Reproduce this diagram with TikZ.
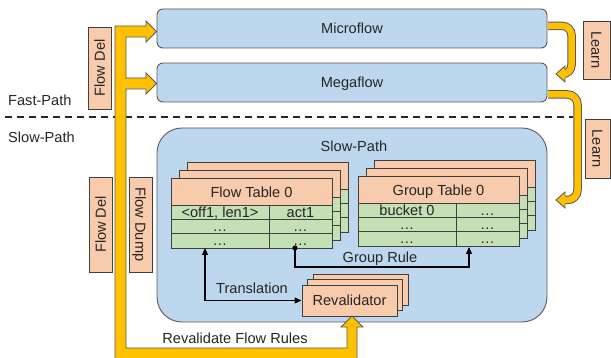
\documentclass[tikz,border=0pt]{standalone}
\usepackage{fontspec}
\setmainfont{Liberation Sans}
\usetikzlibrary{arrows.meta}
\definecolor{bluef}{HTML}{BDD7EE}
\definecolor{peachf}{HTML}{F8CBAD}
\definecolor{greenf}{HTML}{C5E0B4}
\definecolor{goldf}{HTML}{FFC000}
\definecolor{edgec}{HTML}{404040}
\definecolor{txtc}{HTML}{262626}
\definecolor{grayedge}{HTML}{5A5A5A}
\tikzset{
 lbl/.style={font=\fontsize{14.6}{17}\selectfont, text=txtc, inner sep=0pt, text height=10.5pt, text depth=0pt},
 rbox/.style={lbl, draw=grayedge, line width=0.9pt, fill=bluef, rounded corners=6pt},
 tagbox/.style={lbl, draw=edgec, line width=0.9pt, fill=peachf},
 layer/.style={draw=edgec, line width=0.9pt},
 conn/.style={draw=black, line width=1.2pt},
 tipend/.style={-{Triangle[length=7pt,width=6pt]}},
 tipboth/.style={{Triangle[length=7pt,width=6pt]}-{Triangle[length=7pt,width=6pt]}},
 goldline/.style={line width=6.5pt, goldf},
 goldedge/.style={line width=8.5pt, grayedge},
 headedge/.style={grayedge, line width=0.8pt},
}
\newcommand\tblstack[7]{%
  \foreach \k in {2,1,0} {
    \begin{scope}[shift={({#1+8*\k},{#2-8*\k})}]
      \fill[peachf] (0,0) rectangle (161,27);
      \fill[greenf] (0,27) rectangle (161,70);
      \draw[layer] (0,0) rectangle (161,70) (0,27) -- (161,27) (0,41.3) -- (161,41.3) (0,55.6) -- (161,55.6) (98,27) -- (98,70);
    \end{scope}
  }
  \node[lbl] (#3h) at (#1+80.5,#2+14.5) {#4};
  \node[lbl] (#3a) at (#1+49,#2+34.5) {#5};
  \node[lbl] (#3b) at (#1+129.5,#2+34.5) {#6};
  \node[lbl] (#3c) at (#1+49,#2+48.5) {\ldots};
  \node[lbl] (#3d) at (#1+129.5,#2+48.5) {\ldots};
  \node[lbl] (#3e) at (#1+49,#2+62.5) {\ldots};
  \node[lbl] (#3f) at (#1+129.5,#2+62.5) {\ldots};
  #7
}
\begin{document}
\begin{tikzpicture}[x=1pt,y=-1pt]
\useasboundingbox[fill=white] (0,0) rectangle (611,358);
% dashed separator
\coordinate (dl) at (5,117);
\coordinate (dr) at (573,117);
\draw[txtc, line width=1.8pt, dash pattern=on 7pt off 5pt] (dl) -- (dr);
\node[lbl, anchor=west] (fastlbl) at (8,100.5) {Fast-Path};
\node[lbl, anchor=west] (slowlbl) at (8,137) {Slow-Path};
% slow path container
\node[rbox, rounded corners=25pt, minimum width=390, minimum height=194] (slow) at (352,225) {};
\node[lbl] (slowtitle) at (354,146) {Slow-Path};
% tables
\tblstack{171}{178}{ft}{Flow Table 0}{\textless off1, len1\textgreater}{act1}{}
\tblstack{358}{176}{gt}{Group Table 0}{bucket 0}{\ldots}{}
% revalidator stack
\draw[layer, fill=peachf] (313,274) rectangle ++(95,31);
\draw[layer, fill=peachf] (307.5,279.5) rectangle ++(95,31);
\node[tagbox, minimum width=95, minimum height=31] (reval) at (349.5,300.5) {Revalidator};
% connectors
\coordinate (ftb) at (205,248);
\coordinate (ftd) at (295,248);
\coordinate (grc) at (295,267);
\coordinate (gtb) at (469,247);
\draw[conn, tipboth] (ftb) |- (reval.west);
\draw[conn, tipend] (ftd) -- (grc) -| (gtb);
\fill (ftd) circle (2.6);
\node[lbl] (transl) at (252,288) {Translation};
\node[lbl] (grule) at (380,257) {Group Rule};
\node[lbl] (revrules) at (235,338) {Revalidate Flow Rules};
% fast path tables
\node[rbox, minimum width=390, minimum height=39] (micro) at (352,28.5) {Microflow};
\node[rbox, minimum width=390, minimum height=39] (mega) at (352,82.5) {Megaflow};
% big yellow arrow
\filldraw[fill=goldf, draw=grayedge, line width=0.8pt]
  (115,362) -- (115,26) -- (146,26) -- (146,21) -- (156.5,31.5) -- (146,42) -- (146,37) -- (126,37)
  -- (126,78) -- (146,78) -- (146,73) -- (156.5,83.5) -- (146,94) -- (146,89) -- (126,89)
  -- (126,348) -- (347,348) -- (347,327) -- (341,327) -- (352,316) -- (363,327) -- (357,327) -- (357,362) -- cycle;
% learn arrows
\coordinate (l1s) at (548,26);
\coordinate (l1e) at (562,74);
\draw[goldedge, rounded corners=9pt] (l1s) -- (571.5,26) -- (571.5,74) -- (l1e);
\draw[goldline, rounded corners=9pt] (l1s) -- (571.5,26) -- (571.5,74) -- (l1e);
\fill[goldf] (565,66) -- (556,74) -- (565,82) -- cycle;
\draw[headedge] (565,69.75) -- (565,66) -- (556,74) -- (565,82) -- (565,78.25);
\coordinate (l2s) at (548,94.5);
\coordinate (l2e) at (562,200);
\draw[goldedge, rounded corners=10pt] (l2s) -- (577.5,94.5) -- (577.5,200) -- (l2e);
\draw[goldline, rounded corners=10pt] (l2s) -- (577.5,94.5) -- (577.5,200) -- (l2e);
\fill[goldf] (565,192) -- (556,200) -- (565,208) -- cycle;
\draw[headedge] (565,195.75) -- (565,192) -- (556,200) -- (565,208) -- (565,204.25);
% tag boxes
\node[tagbox, rotate=90, minimum width=82, minimum height=23] (fdel1) at (99.5,68) {Flow Del};
\node[tagbox, rotate=90, minimum width=95, minimum height=23] (fdel2) at (100.5,224.5) {Flow Del};
\node[tagbox, rotate=-90, minimum width=95, minimum height=23] (fdump) at (140.5,224.5) {Flow Dump};
\node[tagbox, rotate=-90, minimum width=58, minimum height=27] (learn1) at (596.5,50) {Learn};
\node[tagbox, rotate=-90, minimum width=59, minimum height=25] (learn2) at (597.5,148.5) {Learn};
\end{tikzpicture}
\end{document}
